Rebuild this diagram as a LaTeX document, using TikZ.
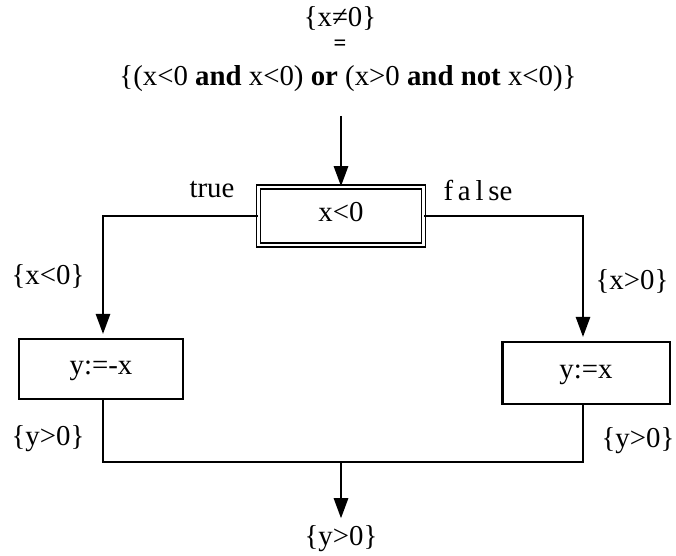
\documentclass[tikz,border=0pt]{standalone}
\usepackage{fontspec}
\setmainfont{Liberation Serif}
\usetikzlibrary{positioning,arrows.meta,calc}
\tikzset{
  >={Triangle[length=5mm,width=3.6mm]},
  every node/.style={font=\fontsize{20.5}{24}\selectfont},
  % --- nodes
  stmt/.style  = {draw=black, line width=1.6pt, minimum width=4.1cm, minimum height=1.5cm,
                  inner sep=0pt, text height=1.6ex, text depth=0pt},
  cond/.style  = {stmt, double, double distance=1.6pt, line width=1.2pt,
                  minimum width=4.12cm, minimum height=1.45cm},
  asrt/.style  = {inner sep=1pt},
  % --- edges
  e/.style     = {->, line width=1.1pt},
  l/.style     = {line width=1.1pt},
}
\begin{document}
\begin{tikzpicture}[x=0.025cm,y=-0.025cm]
  \useasboundingbox (0,0) rectangle (676,555);
  % precondition
  \node[asrt] (pre1) at (340,18) {\{x≠0\}};
  \node[asrt,font=\fontsize{16}{17}\selectfont\bfseries] (pre2) at (340,45) {=};
  \node[asrt] (pre) at (348,79) {\{(x<0 \textbf{and} x<0) \textbf{or} (x>0 \textbf{and not} x<0)\}};
  % test and branches
  \node[cond] (test) at (341,216) {x<0};
  \node[stmt] (thn) at (101,369) {y:=-x};
  \node[stmt,minimum width=4.18cm,minimum height=1.55cm] (els) at (586,373) {y:=x};
  \node[asrt] (tl) at (212,190) {true};
  \node[asrt] (fl) at (478,190) {f\,a\,l\,se};
  \node[asrt] (xn) at (48,276) {\{x<0\}};
  \node[asrt] (xp) at (632,281) {\{x>0\}};
  \node[asrt] (yl) at (48,439) {\{y>0\}};
  \node[asrt] (yr) at (638,441) {\{y>0\}};
  \node[asrt] (post) at (341,539) {\{y>0\}};
  \coordinate (join) at (341,462);
  \draw[e] ($(test.north |- pre.south)+(0,22)$) -- (test.north);
  \draw[e] (test.west) -| ($(thn.north)+(2,-4)$);
  \draw[e] (test.east) -| ($(els.north)+(-3,-4)$);
  \draw[l] ($(thn.south)+(2,0)$) |- (join) -| ($(els.south)+(-3,0)$);
  \draw[e] (join) -- ($(join |- post.north)+(0,-6)$);
\end{tikzpicture}
\end{document}
